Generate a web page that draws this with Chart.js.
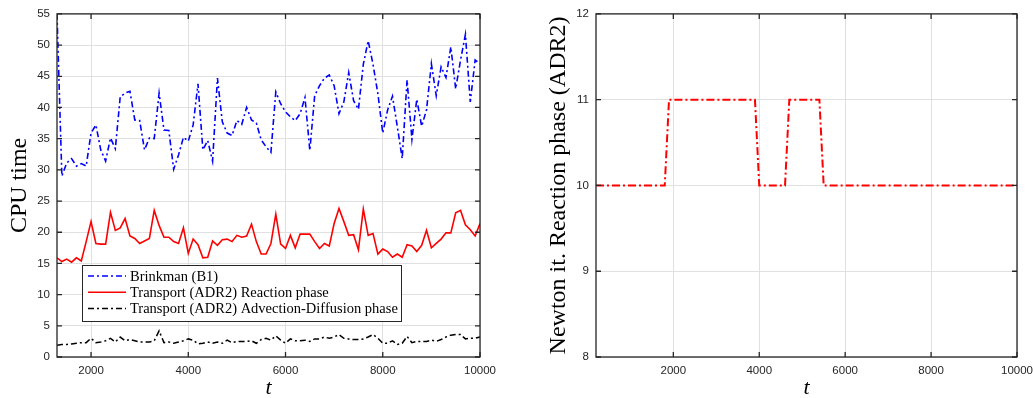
<!DOCTYPE html>
<html><head><meta charset="utf-8">
<script src="https://cdn.jsdelivr.net/npm/chart.js@4/dist/chart.umd.min.js"></script>
<style>
html,body{margin:0;padding:0;background:#fff;overflow:hidden;width:1033px;height:398px;}
#w1{position:absolute;left:0;top:0;width:520px;height:398px;}
#w2{position:absolute;left:520px;top:0;width:540px;height:398px;}
</style></head><body>
<div id="w1"><canvas id="c1"></canvas></div>
<div id="w2"><canvas id="c2"></canvas></div>
<script>
// ---- data ----
const timeSteps = [1300,1400,1500,1600,1700,1800,1900,2000,2100,2200,2300,2400,2500,2600,2700,2800,2900,3000,
  3100,3200,3300,3400,3500,3600,3700,3800,3900,4000,4100,4200,4300,4400,4500,4600,4700,4800,4900,5000,
  5100,5200,5300,5400,5500,5600,5700,5800,5900,6000,6100,6200,6300,6400,6500,6600,6700,6800,6900,7000,
  7100,7200,7300,7400,7500,7600,7700,7800,7900,8000,8100,8200,8300,8400,8500,8600,8700,8800,8900,9000,
  9100,9200,9300,9400,9500,9600,9700,9800,9900,10000];
const brinkmanCPU = [55.0,29.0,31.1,31.8,30.6,31.0,30.6,35.9,37.2,33.2,31.4,35.1,33.4,41.7,42.3,42.6,38.0,37.9,
  33.2,35.1,35.0,42.3,36.4,36.3,30.1,32.4,35.2,34.6,37.2,43.8,33.2,34.7,31.4,44.7,37.7,35.9,35.5,37.9,
  37.3,40.0,38.0,37.5,34.8,33.7,32.8,42.5,40.6,39.3,38.5,37.9,39.0,41.6,33.1,41.9,43.5,44.7,45.2,43.5,
  39.0,40.9,45.6,41.1,39.7,46.9,50.7,46.9,42.2,35.9,39.6,41.8,36.9,31.8,44.4,34.9,41.3,37.0,39.6,47.0,
  41.9,46.5,44.8,49.7,43.0,47.6,51.7,40.9,47.6,47.0];
const reactionCPU = [15.9,15.3,15.7,15.2,15.9,15.4,18.5,21.7,18.2,18.1,18.1,23.2,20.3,20.7,22.2,19.4,19.0,18.2,
  18.6,19.0,23.5,21.1,19.2,19.2,18.5,18.2,20.7,16.6,18.9,18.0,15.9,16.0,18.6,17.9,18.8,18.9,18.5,19.5,
  19.2,19.4,21.3,18.5,16.5,16.5,18.2,22.9,18.1,17.4,19.5,17.5,19.7,19.7,19.7,18.5,17.4,18.2,17.8,21.4,
  23.8,21.7,19.5,19.6,17.2,23.7,19.5,19.8,16.5,17.3,16.9,16.0,16.5,16.0,18.0,17.8,16.9,17.9,20.3,17.5,
  18.2,18.9,19.9,19.9,23.1,23.5,21.2,20.4,19.4,21.4];
const advDiffCPU = [1.9,2.0,2.0,2.1,2.2,2.3,2.3,3.0,2.3,2.4,2.6,3.0,2.4,3.2,2.6,2.8,2.6,2.4,
  2.4,2.4,2.6,4.2,2.3,2.4,2.2,2.4,2.6,2.9,2.7,2.1,2.2,2.4,2.2,2.4,2.2,2.7,2.3,2.5,
  2.5,2.5,2.6,2.2,2.8,3.0,2.7,3.4,2.7,2.2,2.9,2.6,2.6,2.7,2.5,2.9,2.9,3.2,3.0,3.2,
  3.6,3.0,2.9,2.8,2.8,2.9,3.2,3.6,3.0,2.2,2.2,2.6,2.0,2.2,3.3,2.3,2.5,2.5,2.5,2.7,
  2.5,2.8,3.2,3.5,3.6,3.6,2.9,3.0,3.0,3.2];
const newtonTimes = [200,1800,1900,3900,4000,4600,4700,5400,5500,10000];
const newtonIters = [10,10,11,11,10,10,11,11,10,10];
const xTickValues = [2000,4000,6000,8000,10000];
const seriesLabels = ['Brinkman (B1)','Transport (ADR2) Reaction phase','Transport (ADR2) Advection-Diffusion phase'];

// ---- helpers ----
const pts = (xs, ys) => xs.map((x,i)=>({x, y: ys[i]}));
const TICK_FONT = {family:'"Liberation Sans", Arial, sans-serif', size:11.5};
const TICK_COLOR = '#262626';
const GRID = '#e0e0e0';

const framePlugin = {
  id:'frame',
  afterDatasetsDraw(chart, args, o){
    const {ctx, chartArea:a, scales:{x,y}} = chart;
    ctx.save();
    ctx.strokeStyle='#262626'; ctx.lineWidth=1.3; ctx.setLineDash([]);
    ctx.strokeRect(a.left, a.top, a.right-a.left, a.bottom-a.top);
    ctx.beginPath();
    const L=5;
    x.ticks.forEach(t=>{const px=x.getPixelForValue(t.value);
      ctx.moveTo(px,a.bottom); ctx.lineTo(px,a.bottom-L); ctx.moveTo(px,a.top); ctx.lineTo(px,a.top+L);});
    y.ticks.forEach(t=>{const py=y.getPixelForValue(t.value);
      ctx.moveTo(a.left,py); ctx.lineTo(a.left+L,py); ctx.moveTo(a.right,py); ctx.lineTo(a.right-L,py);});
    ctx.stroke();
    // axis titles
    ctx.fillStyle='#000';
    ctx.textAlign='center'; ctx.textBaseline='alphabetic';
    ctx.font = 'italic 22px "Liberation Serif", serif';
    ctx.fillText('t', (a.left+a.right)/2, o.xTitleY);
    ctx.save();
    ctx.font = '24px "Liberation Serif", serif';
    ctx.translate(o.yTitleX, (a.top+a.bottom)/2);
    ctx.rotate(-Math.PI/2);
    ctx.fillText(o.yTitle, 0, 0);
    ctx.restore();
    // legend
    if (o.legend) {
      const lg = o.legend;
      ctx.fillStyle='#fff';
      ctx.fillRect(lg.x, lg.y, lg.w, lg.h);
      ctx.strokeStyle='#262626'; ctx.lineWidth=1;
      ctx.strokeRect(lg.x+0.5, lg.y+0.5, lg.w, lg.h);
      ctx.font = '14.5px "Liberation Serif", serif';
      ctx.textAlign='left'; ctx.textBaseline='middle';
      chart.data.datasets.forEach((ds,i)=>{
        const ry = lg.rows[i];
        ctx.strokeStyle = ds.borderColor; ctx.lineWidth = Math.max(ds.borderWidth, 1.6);
        ctx.setLineDash(ds.borderDash || []);
        ctx.beginPath(); ctx.moveTo(lg.lx0, ry); ctx.lineTo(lg.lx1, ry); ctx.stroke();
        ctx.setLineDash([]);
        ctx.fillStyle='#000';
        ctx.fillText(ds.label, lg.tx, ry+1);
      });
    }
    ctx.restore();
  }
};

function xScale(min, max){
  return {type:'linear', min, max,
    afterBuildTicks: s => { s.ticks = xTickValues.map(v=>({value:v})); },
    afterFit: s => { s.height = 41; },
    grid:{color:GRID, lineWidth:1, drawTicks:false},
    border:{display:false},
    ticks:{font:TICK_FONT, color:TICK_COLOR, padding:6.5, maxRotation:0, autoSkip:false,
      callback: v => String(v)}};
}
function yScale(min, max, step, w){
  return {type:'linear', min, max,
    afterFit: s => { s.width = w; },
    grid:{color:GRID, lineWidth:1, drawTicks:false},
    border:{display:false},
    ticks:{font:TICK_FONT, color:TICK_COLOR, padding:7, stepSize:step, callback: v => String(v)}};
}
const common = {responsive:true, maintainAspectRatio:false, animation:false, devicePixelRatio:1,
  plugins:{legend:{display:false}, tooltip:{enabled:false}},
  elements:{point:{radius:0}, line:{tension:0}}};

new Chart(document.getElementById('c1'), {
  type:'line',
  data:{datasets:[
    {label:seriesLabels[0], data:pts(timeSteps, brinkmanCPU), borderColor:'#0000ff', borderWidth:1.6, borderDash:[6,3,2,3], fill:false},
    {label:seriesLabels[1], data:pts(timeSteps, reactionCPU), borderColor:'#ff0000', borderWidth:1.6, fill:false},
    {label:seriesLabels[2], data:pts(timeSteps, advDiffCPU), borderColor:'#000000', borderWidth:1.5, borderDash:[6,3,2,3], fill:false}
  ]},
  options:Object.assign({}, common, {
    layout:{padding:{left:0, right:40, top:9, bottom:0}},
    scales:{x:xScale(1300,10000), y:yScale(0,55,5,57)},
    plugins:Object.assign({}, common.plugins, {frame:{
      xTitleY:394, yTitleX:26, yTitle:'CPU time',
      legend:{x:82, y:265, w:319, h:56, rows:[276,292.3,308.5], lx0:88, lx1:126, tx:130}
    }})
  }),
  plugins:[framePlugin]
});

new Chart(document.getElementById('c2'), {
  type:'line',
  data:{datasets:[
    {label:'Newton it. Reaction phase (ADR2)', data:pts(newtonTimes, newtonIters), borderColor:'#ff0000', borderWidth:2, borderDash:[8,3,2,3], fill:false}
  ]},
  options:Object.assign({}, common, {
    layout:{padding:{left:0, right:43, top:9, bottom:0}},
    scales:{x:xScale(200,10000), y:yScale(8,12,1,76)},
    plugins:Object.assign({}, common.plugins, {frame:{
      xTitleY:394, yTitleX:45, yTitle:'Newton it. Reaction phase (ADR2)'
    }})
  }),
  plugins:[framePlugin]
});
</script>
</body></html>
